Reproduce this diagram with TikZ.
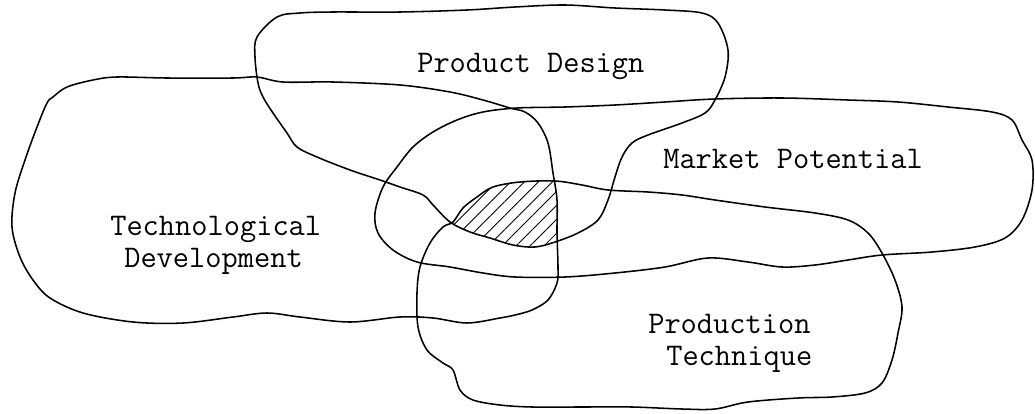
\documentclass[tikz,border=0pt]{standalone}
\usetikzlibrary{patterns.meta}
\begin{document}
\begin{tikzpicture}[x=0.025cm,y=-0.025cm,
  blob/.style={draw=black, line width=1.1pt, line join=round},
  lbl/.style={font=\ttfamily\fontsize{22.4}{26}\selectfont, inner sep=0pt, anchor=base west}]
\useasboundingbox (0,0) rectangle (1035,414);
\def\pd{plot[smooth cycle, tension=0.55] coordinates {
(257,37)(277,17)(300,13)(333,12)(400,12)(467,10)(515,7)(565,5)(615,8)(665,10)(702,13)(718,23)(728,50)(725,77)(715,100)(705,113)(682,123)(648,135)(632,143)(622,157)(615,177)(608,200)(598,220)(578,233)(555,242)(535,247)(513,245)(490,238)(470,232)(450,222)(433,205)(423,195)(400,187)(380,180)(350,170)(317,157)(297,147)(287,133)(273,113)(263,97)(258,83)(255,57)}}
\def\td{plot[smooth cycle, tension=0.55] coordinates {
(53,97)(67,87)(93,80)(117,77)(167,78)(233,78)(257,77)(283,82)(333,82)(400,85)(450,92)(483,100)(510,108)(525,112)(538,123)(548,143)(553,173)(557,200)(557,233)(558,267)(557,283)(548,300)(532,310)(515,315)(500,318)(467,323)(433,318)(400,317)(350,322)(300,317)(267,313)(233,317)(183,323)(133,322)(83,313)(50,298)(33,280)(20,257)(12,227)(15,193)(25,160)(37,127)(47,103)}}
\def\mp{plot[smooth cycle, tension=0.55] coordinates {
(517,108)(483,112)(457,120)(433,132)(413,147)(397,167)(383,187)(375,213)(378,233)(393,250)(417,262)(450,267)(483,273)(515,277)(565,277)(615,273)(665,267)(708,258)(748,262)(782,267)(815,265)(848,260)(882,255)(932,252)(975,247)(1005,238)(1022,220)(1032,190)(1032,160)(1022,140)(1012,120)(992,112)(948,107)(898,102)(848,100)(782,98)(715,99)(665,102)(615,105)(565,107)}}
\def\pt{plot[smooth cycle, tension=0.55] coordinates {
(453,222)(463,208)(477,197)(493,187)(520,182)(555,181)(582,185)(608,190)(648,192)(682,195)(715,200)(765,207)(815,213)(848,220)(868,233)(882,253)(895,280)(902,307)(898,333)(892,360)(882,383)(865,393)(832,397)(798,398)(748,402)(715,409)(682,409)(632,407)(582,407)(532,407)(500,405)(473,400)(460,390)(453,370)(443,363)(427,350)(418,327)(417,293)(420,267)(430,243)(443,227)}}
\begin{scope}
  \clip \pd; \clip \td; \clip \mp; \clip \pt;
  \fill[pattern={Lines[angle=45,distance=7pt,line width=0.6pt]}] (300,100) rectangle (700,350);
\end{scope}
\draw[blob] \pd;
\draw[blob] \td;
\draw[blob] \mp;
\draw[blob] \pt;
\node[lbl] (pdA) at (417,72) {Product Design};
\node[lbl] (mpA) at (663,168) {Market Potential};
\node[lbl] (tdA) at (110,235) {Technological};
\node[lbl] (tdB) at (124,267) {Development};
\node[lbl] (ptA) at (648,333) {Production};
\node[lbl] (ptB) at (666,365) {Technique};
\end{tikzpicture}
\end{document}
